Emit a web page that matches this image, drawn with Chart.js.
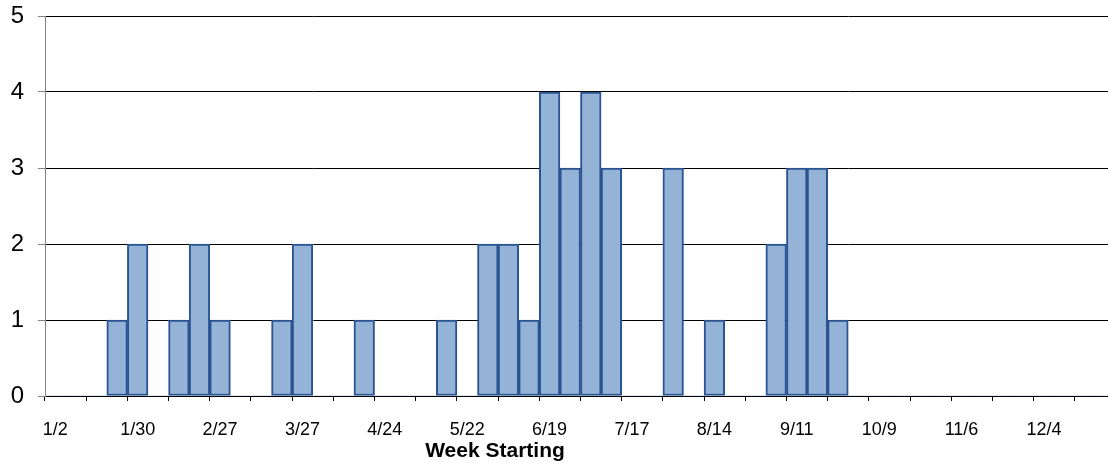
<!DOCTYPE html>
<html>
<head>
<meta charset="utf-8">
<script src="https://cdn.jsdelivr.net/npm/chart.js@4"></script>
<style>
  html, body { margin: 0; padding: 0; background: #fff; overflow: hidden; }
  #wrap { width: 1116px; height: 464px; position: relative; }
</style>
</head>
<body>
<div id="wrap"><canvas id="weekChart"></canvas></div>
<script>
"use strict";

/* ── Data ──────────────────────────────────────────────────────────────── */
const WEEKS = [
  "1/2", "1/9", "1/16", "1/23", "1/30",
  "2/6", "2/13", "2/20", "2/27",
  "3/6", "3/13", "3/20", "3/27",
  "4/3", "4/10", "4/17", "4/24",
  "5/1", "5/8", "5/15", "5/22", "5/29",
  "6/5", "6/12", "6/19", "6/26",
  "7/3", "7/10", "7/17", "7/24", "7/31",
  "8/7", "8/14", "8/21", "8/28",
  "9/4", "9/11", "9/18", "9/25",
  "10/2", "10/9", "10/16", "10/23", "10/30",
  "11/6", "11/13", "11/20", "11/27",
  "12/4", "12/11", "12/18", "12/25"
];
const COUNTS = [
  0, 0, 0, 1, 2,
  0, 1, 2, 1,
  0, 0, 1, 2,
  0, 0, 1, 0,
  0, 0, 1, 0, 2,
  2, 1, 4, 3,
  4, 3, 0, 0, 3,
  0, 1, 0, 0,
  2, 3, 3, 1,
  0, 0, 0, 0, 0,
  0, 0, 0, 0,
  0, 0, 0, 0
];
const Y_TICKS = [0, 1, 2, 3, 4, 5];
const X_TITLE = "Week Starting";

const FONT = "'Liberation Sans', Arial, sans-serif";

/* ── x-axis title drawn at its spot under the labels ───────────────────── */
const axisTitle = {
  id: "axisTitle",
  afterDraw(chart) {
    const c = chart.ctx;
    c.save();
    c.font = "bold 21px " + FONT;
    c.fillStyle = "#000";
    c.textAlign = "center";
    c.textBaseline = "middle";
    c.fillText(X_TITLE, chart.chartArea.left + 450, 451);
    c.restore();
  }
};

new Chart(document.getElementById("weekChart"), {
  type: "bar",
  data: {
    labels: WEEKS,
    datasets: [{
      data: COUNTS,
      backgroundColor: "#95B3D7",
      borderColor: "#2A5391",
      borderWidth: (ctx) => (ctx.raw ? 2 : 0),
      borderSkipped: false,
      categoryPercentage: 1,
      barPercentage: 1
    }]
  },
  options: {
    responsive: true, maintainAspectRatio: false,
    animation: false,
    layout: { padding: { top: 16, right: 0, bottom: 0, left: 0 } },
    plugins: { legend: { display: false }, tooltip: { enabled: false } },
    scales: {
      x: {
        offset: true,
        grid: {
          offset: true,
          drawOnChartArea: false,
          tickLength: 5,
          tickColor: (ctx) => (ctx.index % 2 === 0 ? "#000" : "rgba(0,0,0,0)")
        },
        border: { color: "#000", width: 1 },
        ticks: {
          autoSkip: false, maxRotation: 0, minRotation: 0,
          padding: 18,
          color: "#000",
          font: { family: FONT, size: 18 },
          callback: (v, i) => (i % 4 === 0 ? WEEKS[i] : "")
        },
        afterFit: (s) => { s.height = 68; s.paddingLeft = 0; s.paddingRight = 0; }
      },
      y: {
        min: Y_TICKS[0], max: Y_TICKS[Y_TICKS.length - 1],
        afterBuildTicks: (s) => { s.ticks = Y_TICKS.map(v => ({ value: v })); },
        grid: { color: "#000", lineWidth: 1, tickLength: 7, tickColor: "#868686" },
        border: { color: "#868686", width: 1 },
        ticks: {
          padding: 14,
          color: "#000",
          font: { family: FONT, size: 24 }
        },
        afterFit: (s) => { s.width = 45; s.paddingTop = 0; s.paddingBottom = 0; }
      }
    }
  },
  plugins: [axisTitle]
});
</script>
</body>
</html>
